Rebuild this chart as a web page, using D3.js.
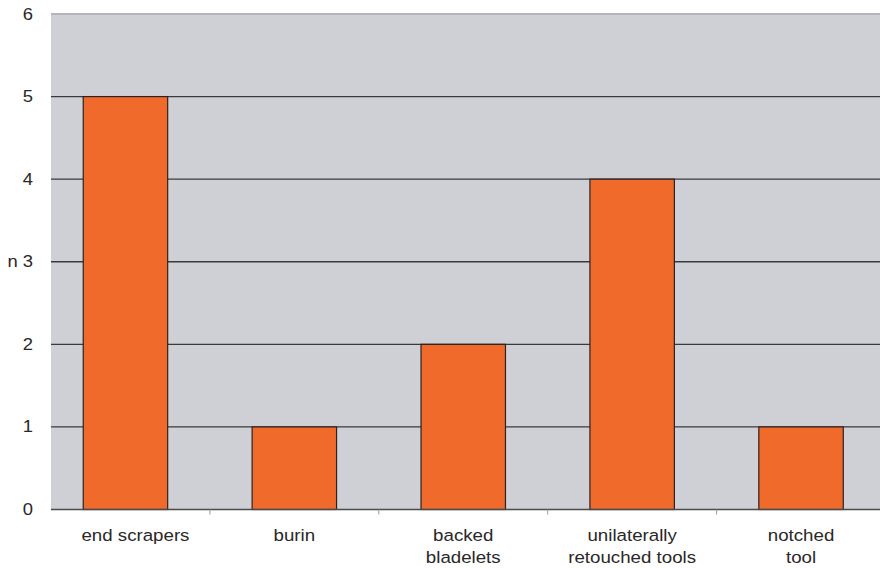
<!DOCTYPE html>
<html>
<head>
<meta charset="utf-8">
<script src="https://cdn.jsdelivr.net/npm/d3@7/dist/d3.min.js"></script>
<style>
  html, body { margin: 0; padding: 0; background: #fff; }
  svg { display: block; }
  text { font-family: "Liberation Sans", Arial, Helvetica, sans-serif; fill: #2a2728; }
</style>
</head>
<body>
<svg id="chart" width="880" height="568"></svg>
<script>
// Tool types and their counts
const categories = ["end scrapers", "burin", "backed bladelets", "unilaterally retouched tools", "notched tool"];
const categoryLines = [["end scrapers"], ["burin"], ["backed", "bladelets"], ["unilaterally", "retouched tools"], ["notched", "tool"]];
const counts = [5, 1, 2, 4, 1];
const yTicks = [0, 1, 2, 3, 4, 5, 6];
const yTickLabels = ["0", "1", "2", "n 3", "4", "5", "6"];

const svg = d3.select("#chart");
const plot = { left: 51, right: 880, top: 14, bottom: 509.5 };
const textStretch = 1.1; // labels are set slightly wide

const x = d3.scaleBand()
  .domain(categories)
  .range([41, 885.5])
  .paddingInner(0.5)
  .paddingOuter(0.25);

const y = d3.scaleLinear()
  .domain([0, 6])
  .range([plot.bottom, plot.top]);

svg.append("defs").append("clipPath").attr("id", "plotClip")
  .append("rect")
  .attr("x", plot.left).attr("y", plot.top - 2)
  .attr("width", plot.right - plot.left).attr("height", plot.bottom - plot.top + 4);

// Plot background
svg.append("rect")
  .attr("x", plot.left).attr("y", plot.top)
  .attr("width", plot.right - plot.left)
  .attr("height", plot.bottom - plot.top)
  .attr("fill", "#cfd0d5");

// Horizontal gridlines
const grid = svg.append("g");
grid.selectAll("line.grid")
  .data(yTicks.filter(d => d > 0 && d < 6))
  .join("line")
  .attr("class", "grid")
  .attr("x1", plot.left).attr("x2", plot.right)
  .attr("y1", d => y(d)).attr("y2", d => y(d))
  .attr("stroke", "#3a3a3c").attr("stroke-width", 1.3);

// Top border
grid.append("line")
  .attr("x1", plot.left).attr("x2", plot.right)
  .attr("y1", y(6)).attr("y2", y(6))
  .attr("stroke", "#b4b5ba").attr("stroke-width", 2);

// Bars
svg.append("g").attr("clip-path", "url(#plotClip)")
  .selectAll("rect.bar")
  .data(categories.map((c, i) => ({ c, v: counts[i] })))
  .join("rect")
  .attr("class", "bar")
  .attr("x", d => x(d.c))
  .attr("width", x.bandwidth())
  .attr("y", d => y(d.v))
  .attr("height", d => y(0) - y(d.v))
  .attr("fill", "#f06a2c")
  .attr("stroke", "#2b2220")
  .attr("stroke-width", 1.2);

// Baseline
svg.append("line")
  .attr("x1", plot.left).attr("x2", plot.right)
  .attr("y1", y(0)).attr("y2", y(0))
  .attr("stroke", "#4a4a4c").attr("stroke-width", 1.4);

// Category separator ticks
const step = x.step();
svg.append("g").selectAll("line.tick")
  .data(categories.slice(1))
  .join("line")
  .attr("class", "tick")
  .attr("x1", d => x(d) - step * 0.25).attr("x2", d => x(d) - step * 0.25)
  .attr("y1", y(0)).attr("y2", y(0) + 5)
  .attr("stroke", "#9a9a9a").attr("stroke-width", 1);

// Y axis labels
svg.append("g").selectAll("text.ylab")
  .data(yTicks)
  .join("text")
  .attr("class", "ylab")
  .attr("transform", d => `translate(33,${y(d) + 5.5}) scale(1.15,1)`)
  .attr("text-anchor", "end")
  .style("font-size", "16px")
  .text((d, i) => yTickLabels[i]);

// X axis labels (the first one sits a little right of its bar)
const labelNudge = (d, i) => (i === 0 ? 10 : 0);
const xl = svg.append("g").selectAll("text.xlab")
  .data(categories)
  .join("text")
  .attr("class", "xlab")
  .attr("text-anchor", "middle")
  .attr("transform", (d, i) => `translate(${x(d) + x.bandwidth() / 2 + labelNudge(d, i)},541) scale(${textStretch},1)`)
  .style("font-size", "17px");
xl.selectAll("tspan")
  .data((d, i) => categoryLines[i])
  .join("tspan")
  .attr("x", 0)
  .attr("dy", (d, i) => i === 0 ? 0 : 22.5)
  .text(d => d);
</script>
</body>
</html>
